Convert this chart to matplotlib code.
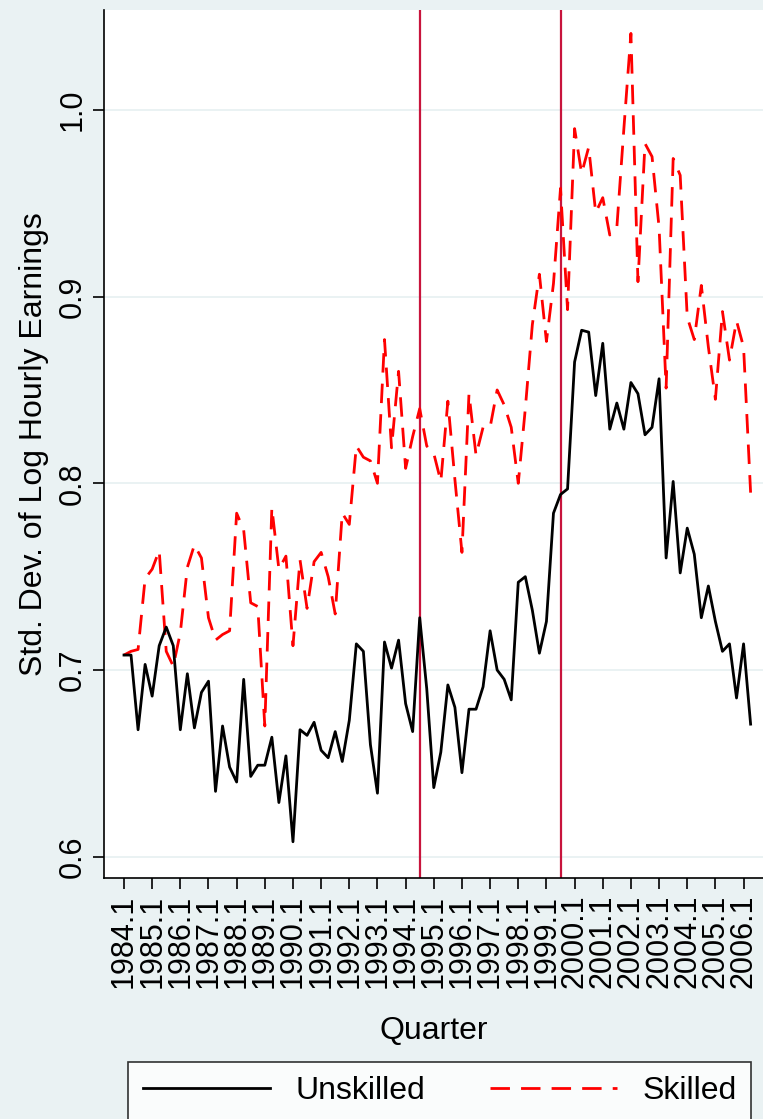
import matplotlib
matplotlib.use("Agg")
import matplotlib.pyplot as plt

# quarterly data, 1984Q1 - 2006Q2
start_year = 1984
n_quarters = 90

unskilled = [
    0.708, 0.708, 0.668, 0.703, 0.686, 0.713, 0.723, 0.713,
    0.668, 0.698, 0.669, 0.688, 0.694, 0.635, 0.670, 0.648,
    0.640, 0.695, 0.643, 0.649, 0.649, 0.664, 0.629, 0.654,
    0.608, 0.668, 0.665, 0.672, 0.657, 0.653, 0.667, 0.651,
    0.673, 0.714, 0.710, 0.660, 0.634, 0.715, 0.701, 0.716,
    0.682, 0.667, 0.728, 0.690, 0.637, 0.656, 0.692, 0.680,
    0.645, 0.679, 0.679, 0.691, 0.721, 0.700, 0.695, 0.684,
    0.747, 0.750, 0.732, 0.709, 0.726, 0.784, 0.794, 0.797,
    0.865, 0.882, 0.881, 0.847, 0.875, 0.829, 0.843, 0.829,
    0.854, 0.848, 0.826, 0.830, 0.856, 0.760, 0.801, 0.752,
    0.776, 0.762, 0.728, 0.745, 0.726, 0.710, 0.714, 0.685,
    0.714, 0.671,
]

skilled = [
    0.708, 0.710, 0.711, 0.749, 0.754, 0.764, 0.710, 0.702,
    0.720, 0.755, 0.767, 0.760, 0.728, 0.716, 0.719, 0.721,
    0.784, 0.775, 0.736, 0.734, 0.670, 0.787, 0.754, 0.761,
    0.713, 0.759, 0.733, 0.758, 0.763, 0.750, 0.730, 0.784,
    0.778, 0.820, 0.814, 0.812, 0.800, 0.877, 0.819, 0.860,
    0.808, 0.825, 0.840, 0.820, 0.816, 0.801, 0.844, 0.802,
    0.763, 0.848, 0.815, 0.830, 0.830, 0.850, 0.842, 0.830,
    0.800, 0.840, 0.885, 0.912, 0.876, 0.907, 0.958, 0.893,
    0.990, 0.966, 0.980, 0.945, 0.953, 0.933, 0.937, 0.990,
    1.041, 0.908, 0.982, 0.975, 0.937, 0.851, 0.974, 0.965,
    0.889, 0.877, 0.906, 0.873, 0.845, 0.892, 0.866, 0.887,
    0.873, 0.795,
]

# vertical reference lines (1994Q3, 1999Q3)
event_lines = [1994.5, 1999.5]

yticks = [0.6, 0.7, 0.8, 0.9, 1.0]
xtick_years = list(range(1984, 2007))
xtick_labels = [str(y) + ".1" for y in xtick_years]

quarters = [start_year + i / 4 for i in range(n_quarters)]

plt.rcParams["font.family"] = ["Liberation Sans", "DejaVu Sans"]

bg = "#eaf2f3"
fig = plt.figure(figsize=(7.63, 11.19), dpi=100, facecolor=bg)
ax = fig.add_axes([0.1363, 0.2154, 0.8637, 0.7756])
ax.set_facecolor("white")

for yt in yticks:
    ax.axhline(yt, color=bg, linewidth=1.4, zorder=0)

for x in event_lines:
    ax.axvline(x, color="#c8143c", linewidth=1.6, zorder=1)

ax.plot(quarters, unskilled, color="black", linewidth=2.0, label="Unskilled", zorder=3)
ax.plot(quarters, skilled, color="red", linewidth=2.0, linestyle=(0, (7, 4)),
        label="Skilled", zorder=2)

ax.set_xlim(1983.29, 2006.69)
ax.set_ylim(0.5886, 1.0535)

ax.set_yticks(yticks)
ax.set_yticklabels(["0.6", "0.7", "0.8", "0.9", "1.0"], rotation=90, va="center")
ax.set_xticks(xtick_years)
ax.set_xticklabels(xtick_labels, rotation=90)
ax.tick_params(axis="both", direction="out", length=8, width=1.2, labelsize=22, pad=4)

ax.spines["top"].set_visible(False)
ax.spines["right"].set_visible(False)
ax.spines["left"].set_linewidth(1.2)
ax.spines["bottom"].set_linewidth(1.2)

ax.set_ylabel("Std. Dev. of Log Hourly Earnings", fontsize=23, labelpad=6)
ax.set_xlabel("Quarter", fontsize=23, labelpad=20)

leg = fig.legend(loc="upper left", bbox_to_anchor=(0.168, 0.051), ncol=2,
                 fontsize=23, frameon=True, fancybox=False, handlelength=4.0,
                 handletextpad=0.8, columnspacing=2.0, borderpad=0.45,
                 borderaxespad=0)
leg.get_frame().set_edgecolor("black")
leg.get_frame().set_linewidth(1.2)
leg.get_frame().set_facecolor("white")

fig.savefig("out.png", dpi=100, facecolor=bg)
